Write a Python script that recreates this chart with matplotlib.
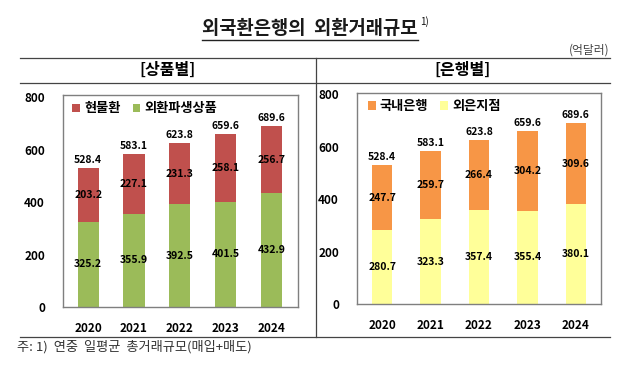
import matplotlib
matplotlib.use("Agg")
import matplotlib.pyplot as plt
from matplotlib.lines import Line2D

plt.rcParams['font.family'] = ['Noto Sans CJK KR', 'DejaVu Sans']

years = ['2020', '2021', '2022', '2023', '2024']
# 상품별
spot = [203.2, 227.1, 231.3, 258.1, 256.7]          # 현물환
deriv = [325.2, 355.9, 392.5, 401.5, 432.9]         # 외환파생상품
total_prod = [528.4, 583.1, 623.8, 659.6, 689.6]
# 은행별
domestic = [247.7, 259.7, 266.4, 304.2, 309.6]      # 국내은행
foreign = [280.7, 323.3, 357.4, 355.4, 380.1]       # 외은지점
total_bank = [528.4, 583.1, 623.8, 659.6, 689.6]
yticks = [0, 200, 400, 600, 800]

W, H = 643, 385
fig = plt.figure(figsize=(W / 100, H / 100), dpi=100)

def fx(x):
    return x / W

def fy(y):
    return 1 - y / H

def hline(x0, x1, y, **kw):
    fig.add_artist(Line2D([fx(x0), fx(x1)], [fy(y), fy(y)], transform=fig.transFigure, **kw))

def vline(x, y0, y1, **kw):
    fig.add_artist(Line2D([fx(x), fx(x)], [fy(y0), fy(y1)], transform=fig.transFigure, **kw))

# title
title = fig.text(fx(310), fy(29), '외국환은행의  외환거래규모', ha='center', va='center',
                 fontsize=13.5, fontweight='bold', color='#1a1a1a')
fig.canvas.draw()
bb = title.get_window_extent(fig.canvas.get_renderer())
x0_px, x1_px = bb.x0, bb.x1
fig.text(fx(x1_px + 2), fy(22), '1)', ha='left', va='center', fontsize=7, color='#111111')
hline(x0_px, x1_px, 39.5, color='#222222', lw=1)
fig.text(fx(610), fy(50), '(억달러)', ha='right', va='center', fontsize=8.5, color='#444444')

# table lines
lc = dict(color='#444444', lw=0.9)
hline(20, 610, 57.5, **lc)
hline(20, 610, 82.5, **lc)
hline(20, 610, 337, **lc)
vline(315.5, 57.5, 337, **lc)

fig.text(fx(167), fy(70), '[상품별]', ha='center', va='center', fontsize=11.5, fontweight='bold')
fig.text(fx(463), fy(70), '[은행별]', ha='center', va='center', fontsize=11.5, fontweight='bold')

fig.text(fx(17), fy(347), '주: 1)  연중  일평균  총거래규모(매입+매도)', ha='left', va='center',
         fontsize=9.5, color='#333333')


def draw_panel(rect, bottom_vals, top_vals, totals, c_bottom, c_top, lab_top, lab_bottom,
               width, xlim, ylim, leg_pos):
    ax = fig.add_axes(rect)
    x = list(range(len(years)))
    b1 = ax.bar(x, bottom_vals, width=width, color=c_bottom, label=lab_bottom)
    b2 = ax.bar(x, top_vals, width=width, bottom=bottom_vals, color=c_top, label=lab_top)
    for i in x:
        ax.text(i, bottom_vals[i] / 2, f'{bottom_vals[i]:.1f}', ha='center', va='center',
                fontsize=7.5, fontweight='bold')
        ax.text(i, bottom_vals[i] + top_vals[i] / 2, f'{top_vals[i]:.1f}', ha='center',
                va='center', fontsize=7.5, fontweight='bold')
        ax.text(i, totals[i] + 12, f'{totals[i]:.1f}', ha='center', va='bottom',
                fontsize=7.5, fontweight='bold')
    ax.set_xlim(*xlim)
    ax.set_ylim(*ylim)
    ax.set_yticks(yticks)
    ax.set_yticklabels([str(v) for v in yticks], fontsize=8.5, fontweight='bold')
    ax.set_xticks(x)
    ax.set_xticklabels(years, fontsize=8.5, fontweight='bold')
    ax.tick_params(axis='both', length=0)
    ax.tick_params(axis='y', pad=13)
    ax.tick_params(axis='x', pad=11)
    for s in ax.spines.values():
        s.set_color('#7f7f7f')
        s.set_linewidth(1)
    ax.legend(handles=[b2, b1], loc='upper left', bbox_to_anchor=leg_pos, ncol=2,
              frameon=False, handlelength=0.6, handleheight=0.6,
              handletextpad=0.3, columnspacing=0.9, borderpad=0, borderaxespad=0,
              prop=dict(weight='bold', size=9.5))
    return ax

draw_panel([fx(63), fy(307), fx(298) - fx(63), fy(95) - fy(307)],
           deriv, spot, total_prod, '#9BBB59', '#C0504D', '현물환', '외환파생상품',
           0.46, (-0.55, 4.58), (0, 808), (0.04, 0.97))

draw_panel([fx(357), fy(304), fx(601) - fx(357), fy(93) - fy(304)],
           foreign, domestic, total_bank, '#FFFF99', '#F79646', '국내은행', '외은지점',
           0.42, (-0.52, 4.52), (0, 804), (0.045, 0.97))

fig.savefig('out.png', dpi=100, facecolor='white')
